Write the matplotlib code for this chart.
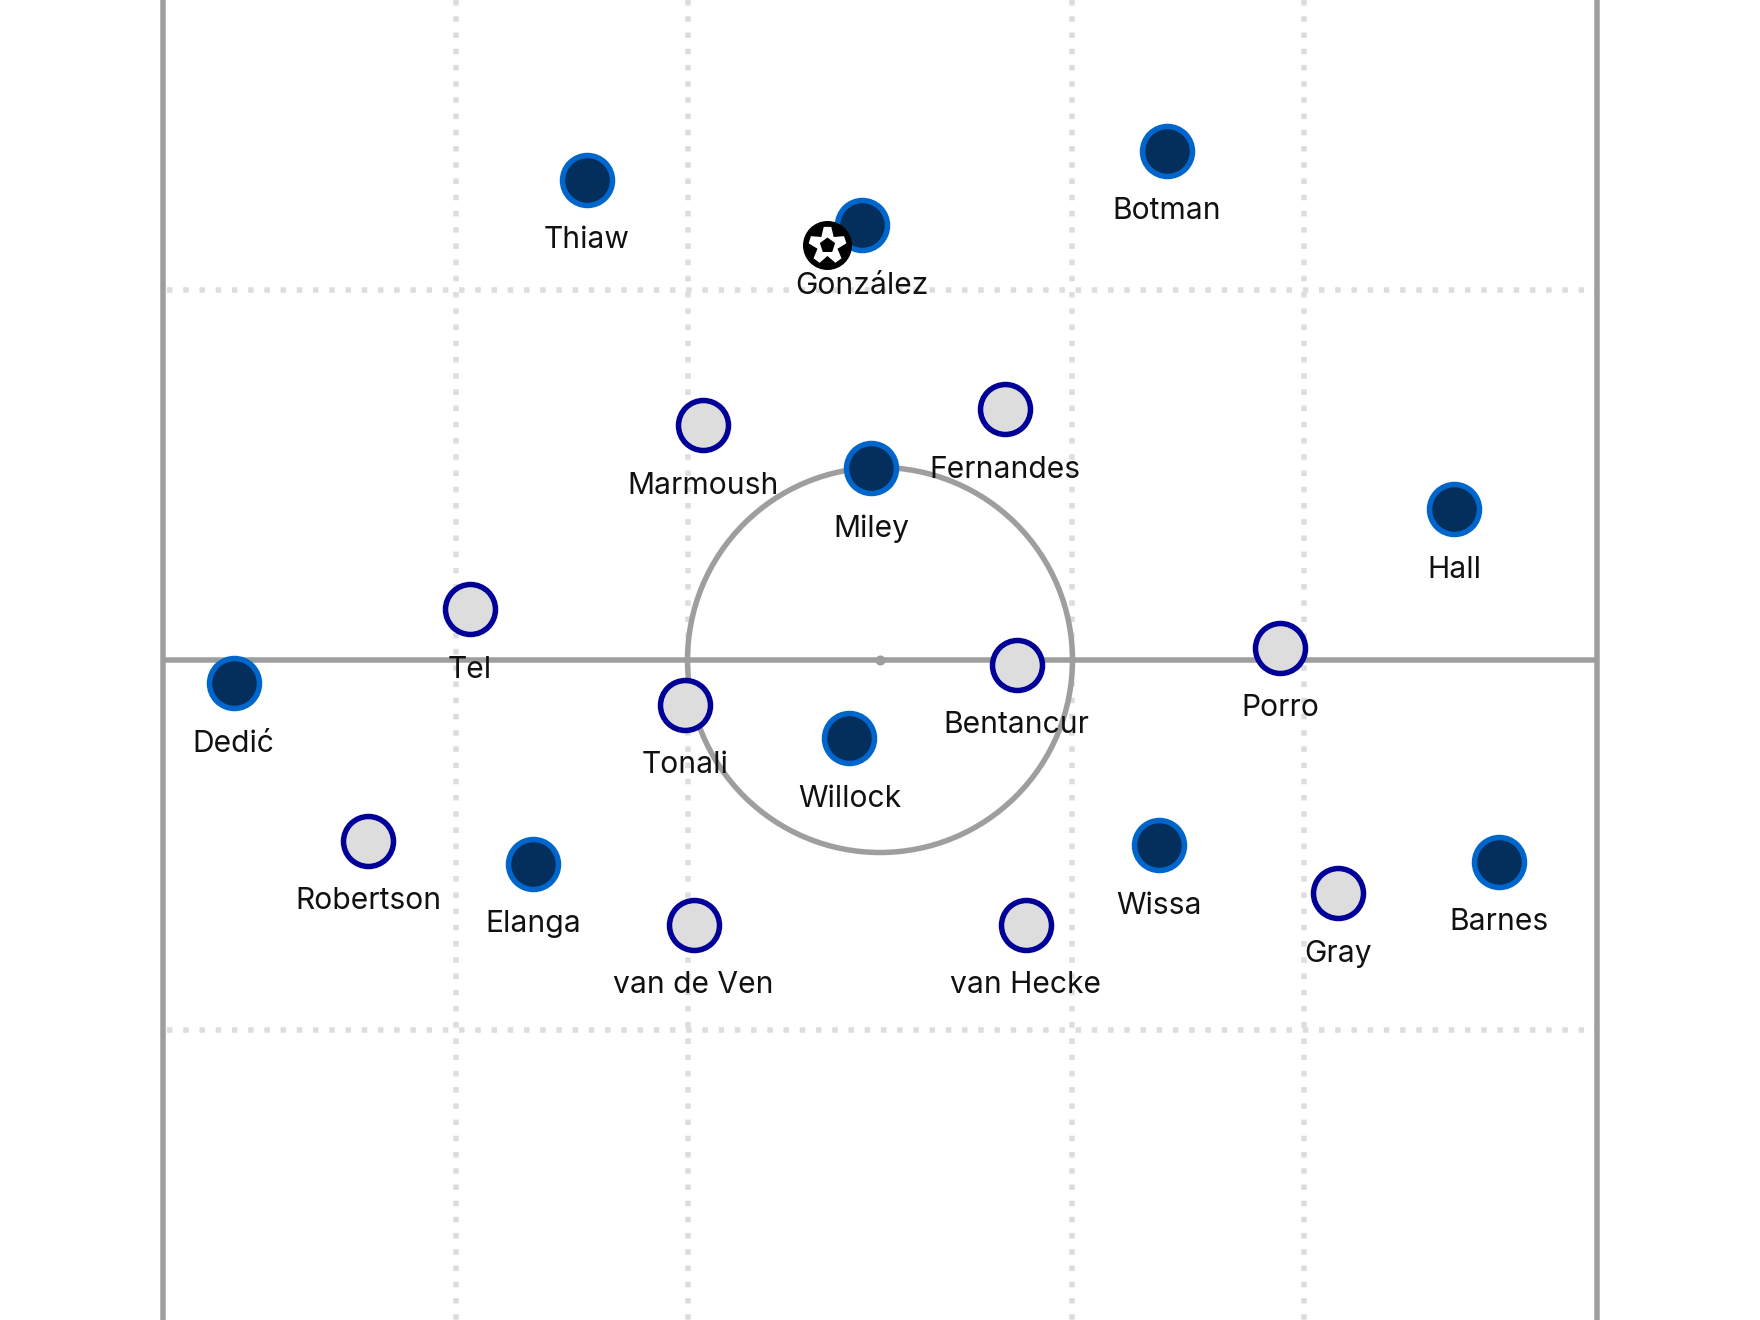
import numpy as np
import matplotlib
matplotlib.use("Agg")
import matplotlib.pyplot as plt
from matplotlib.patches import Circle

plt.rcParams['font.family'] = ['Inter', 'DejaVu Sans']

home_names = ["Thiaw", "González", "Botman", "Miley", "Hall", "Dedić", "Willock", "Elanga", "Wissa", "Barnes"]
home_x = [587, 862, 1167, 871, 1454.2, 233.5, 849.4, 533, 1159.4, 1499]
home_y = [180, 225.2, 150.8, 468, 509, 683, 738.2, 864, 845.2, 861.5]

away_names = ["Marmoush", "Fernandes", "Tel", "Porro", "Bentancur", "Tonali", "Robertson", "van de Ven", "van Hecke", "Gray"]
away_x = [703.2, 1005.2, 469.7, 1280.2, 1016.5, 684.7, 368, 693.6, 1025.9, 1338]
away_y = [425.4, 409.2, 609, 647.6, 664.5, 704.9, 840.7, 924.5, 924.5, 893]

ball_x, ball_y = 827, 244.5
pitch_left, pitch_right = 163, 1597
halfway_y = 660
center_x = 880
circle_radius = 192.5
grid_x = [456, 688, 1072, 1304]
grid_y = [289.6, 1030]

PX = 0.72
fig = plt.figure(figsize=(17.6, 13.2), dpi=100)
ax = fig.add_axes([0, 0, 1, 1])
ax.set_xlim(0, 1760)
ax.set_ylim(1320, 0)
ax.axis("off")

dot = dict(color="#dddddd", lw=5.5 * PX, linestyle=(0, (1, 1.95)), dash_capstyle="butt", zorder=1)
for gx in grid_x:
    ax.plot([gx, gx], [0, 1320], **dot)
for gy in grid_y:
    ax.plot([pitch_left + 4, pitch_right], [gy, gy], **dot)

grey = "#9e9e9e"
line = dict(color=grey, lw=5.5 * PX, zorder=2, solid_capstyle="butt")
ax.plot([pitch_left, pitch_left], [0, 1320], **line)
ax.plot([pitch_right, pitch_right], [0, 1320], **line)
ax.plot([pitch_left, pitch_right], [halfway_y, halfway_y], **line)
ax.add_patch(Circle((center_x, halfway_y), circle_radius, fill=False, ec=grey, lw=5.5 * PX, zorder=2))
ax.scatter([center_x], [halfway_y], s=(10 * PX) ** 2, color=grey, lw=0, zorder=2)

size = (50 * PX) ** 2
ax.scatter(home_x, home_y, s=size, facecolor="#042e5c", edgecolor="#0066cc", lw=5.5 * PX, zorder=3)
ax.scatter(away_x, away_y, s=size, facecolor="#dddddd", edgecolor="#000099", lw=5.5 * PX, zorder=3)

for names, xs, ys in ((home_names, home_x, home_y), (away_names, away_x, away_y)):
    for n, x, y in zip(names, xs, ys):
        ax.text(x, y + 60.5, n, ha="center", va="center", fontsize=21.6, color="#111111", zorder=4)

# football: black disc, white five-armed panel, black centre pentagon
arm = np.deg2rad(-90 + 72 * np.arange(5))
star = []
for a in arm:
    star += [(19 * np.cos(a - 0.2), 19 * np.sin(a - 0.2)),
             (19 * np.cos(a + 0.2), 19 * np.sin(a + 0.2)),
             (10.5 * np.cos(a + 0.63), 10.5 * np.sin(a + 0.63))]
star = np.array(star)
star[:, 1] *= -1
span = 2 * np.abs(star).max()
ax.scatter([ball_x], [ball_y], s=(49 * PX) ** 2, color="black", lw=0, zorder=5)
ax.scatter([ball_x], [ball_y], s=(span * PX) ** 2, color="white", marker=star[::-1].tolist(), lw=0, zorder=6)
ax.scatter([ball_x], [ball_y], s=(16 * PX) ** 2, color="black", marker=(5, 0, 0), lw=0, zorder=7)

fig.savefig("out.png", dpi=100, facecolor="white")
